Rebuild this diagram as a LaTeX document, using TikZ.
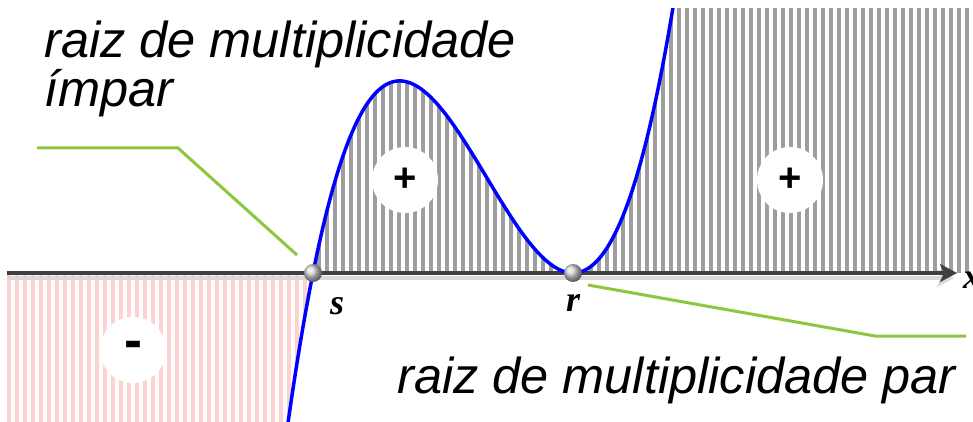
\documentclass[tikz,border=0pt]{standalone}
\usepackage{fontspec}
\setmainfont{Liberation Serif}
\setsansfont{Liberation Sans}
\usetikzlibrary{arrows.meta,positioning}
\definecolor{leadgreen}{RGB}{141,198,63}
\definecolor{hatchgrey}{RGB}{158,158,158}
\definecolor{hatchpink}{RGB}{255,210,210}

\begin{document}
\begin{tikzpicture}[x=1pt,y=-1pt,
  declare function={f(\x)=273-73.78*((\x-313)/100)*((\x-573)/100)*((\x-573)/100);},
  hatch/.style={line width=3.5pt,hatchgrey},
  pinkhatch/.style={line width=4.5pt,hatchpink},
  sgn/.style={circle,fill=white,minimum size=66pt,inner sep=0pt,font=\sffamily\bfseries\fontsize{40}{40}\selectfont},
  root/.style={circle,shading=ball,ball color=gray!35,minimum size=18pt,inner sep=0pt},
  lbl/.style={inner sep=0pt,font=\bfseries\itshape\fontsize{36}{36}\selectfont},
  txt/.style={inner sep=0pt,anchor=base west,font=\sffamily\itshape\fontsize{50.5}{50.5}\selectfont},
  lead/.style={leadgreen,line width=3pt},
  axis/.style={line width=4pt,black!75,-{Stealth[length=17pt,width=18pt,inset=4pt]}},
  curve/.style={blue,line width=3.5pt}]
  \useasboundingbox[fill=white](0,0) rectangle (973,422);
  \begin{scope}
    \clip (0,9) rectangle (973,422);
    % sign regions
    \begin{scope}
      \clip plot[domain=313:680,samples=80] (\x,{f(\x)}) -- (973,-40) -- (973,273) -- cycle;
      \foreach \i in {7,15,...,973} \draw[hatch] (\i,0) -- (\i,273);
    \end{scope}
    \begin{scope}
      \clip plot[domain=280:313,samples=20] (\x,{f(\x)}) -- (7,273) -- (7,482) -- cycle;
      \foreach \i in {9,17,...,313} \draw[pinkhatch] (\i,273) -- (\i,430);
    \end{scope}
    \node[sgn](pa) at (405,180){+};
    \node[sgn](pb) at (790,180){+};
    \node[sgn,font=\sffamily\bfseries\fontsize{54}{54}\selectfont](ma) at (133,350){-};
    % axis
    \coordinate (o) at (7,273);
    \coordinate (xe) at (957,273);
    \draw[axis,gray!30] ([yshift=-5pt]o) -- ([xshift=-3pt,yshift=-5pt]xe);
    \draw[axis] (o) -- (xe);
    \draw[curve] plot[domain=287:675,samples=120] (\x,{f(\x)});
  \end{scope}
  \node[lbl](xl) at (972,280){x};
  \node[root](s) at (313,273){};
  \node[root](r) at (573,273){};
  \node[lbl](sl) at (337,306){s};
  \node[lbl](rl) at (573,303){r};
  % labels and leaders
  \node[txt](t1) at (44,58){raiz de multiplicidade};
  \node[txt](t2) at ([yshift=-49pt]t1.base west){ímpar};
  \node[txt](t3) at (397,393){raiz de multiplicidade par};
  \coordinate (g1) at (37,148);
  \coordinate (g2) at (178,148);
  \coordinate (g3) at (297,255);
  \coordinate (h1) at (588,285);
  \coordinate (h2) at (875,336);
  \coordinate (h3) at (966,336);
  \draw[lead](g1)--(g2)--(g3);
  \draw[lead](h1)--(h2)--(h3);
\end{tikzpicture}
\end{document}
